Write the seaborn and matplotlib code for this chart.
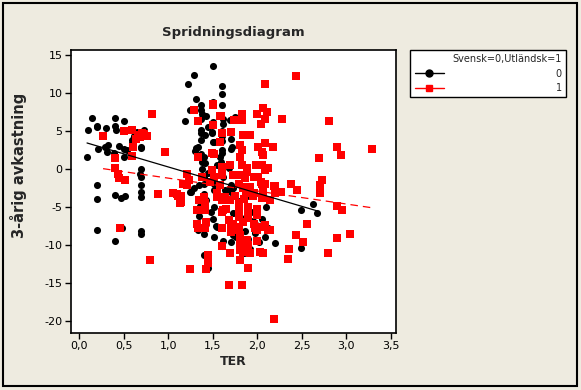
#!/usr/bin/env python3
import numpy as np
import pandas as pd
import seaborn as sns
import matplotlib.pyplot as plt
from matplotlib.lines import Line2D
from matplotlib.patches import Rectangle
from matplotlib.ticker import FuncFormatter

# Grupp 0 = Svensk (svarta cirklar)
svensk_ter = [
    0.10, 0.15, 0.20, 0.20, 0.30, 0.40, 0.40, 0.41, 0.51, 0.50, 0.59, 0.65, 0.73, 0.70,
    0.09, 0.21, 0.29, 0.33, 0.31, 0.39, 0.50, 0.50, 0.54, 0.59, 0.70, 0.62, 0.68, 0.45,
    0.70, 0.68, 0.70, 0.70, 0.70, 0.70, 0.20, 0.20, 0.40, 0.47, 0.52, 0.20, 0.40, 0.48,
    0.70, 0.70,
    1.50, 1.29, 1.22, 1.60, 1.60, 1.60, 1.31, 1.50, 1.37, 1.37, 1.38, 1.37, 1.25, 1.19,
    1.37, 1.37, 1.37, 1.50, 1.49, 1.31, 1.30, 1.37, 1.38, 1.38, 1.62, 1.62, 1.61, 1.61,
    1.61, 1.59, 1.59, 1.71, 1.71, 1.75, 1.69, 1.50, 1.45, 1.42, 1.41, 1.49, 1.60, 1.51,
    1.72, 1.34, 1.40, 1.41, 1.40, 1.40, 1.25, 1.29, 1.69, 1.70, 1.64, 1.51, 1.60, 1.58,
    1.50, 1.55, 1.45, 1.62, 1.68, 1.52,
    1.51, 1.60, 1.50, 1.55, 1.40, 1.52, 1.73, 1.73, 1.71, 1.40, 1.43, 1.40, 1.26, 1.35,
    1.62, 1.60, 1.54, 1.76, 1.70, 1.73,
    2.00, 2.09, 2.49, 2.49, 2.63, 2.67,
    # delvis dolda under röda kvadrater
    1.78, 1.82, 1.86, 1.90, 1.95, 1.88, 1.80, 1.93, 1.98, 2.05, 2.12, 2.20,
    1.76, 1.85, 1.97, 2.02, 1.92, 2.10,
    1.32, 1.35, 1.42, 1.45, 1.33, 1.48, 1.45, 1.40, 1.60, 1.32, 1.45, 1.36,
]
svensk_avk = [
    5.1, 6.8, 5.7, 5.5, 5.4, 6.8, 5.7, 5.2, 6.3, 5.2, 3.9, 4.9, 5.2, 2.8,
    1.6, 2.6, 2.9, 3.2, 2.3, 2.1, 2.7, 1.6, 2.5, 3.4, 2.9, 4.4, 4.6, 3.0,
    0.0, -0.7, -1.0, -2.1, -3.0, -3.7, -2.1, -3.9, -3.4, -3.8, -3.5, -8.0, -9.5, -7.8,
    -8.5, -8.2,
    13.6, 12.4, 11.2, 10.9, 9.9, 8.5, 9.3, 8.9, 8.4, 7.8, 7.2, 6.6, 7.8, 6.3,
    5.2, 4.7, 3.8, 3.6, 4.9, 2.8, 2.4, 2.0, 1.0, 0.0, 6.6, 5.9, 5.0, 3.7,
    2.5, 3.8, 1.0, 2.7, 4.0, 6.9, 6.5, 6.2, 5.5, 7.0, 4.5, 4.7, 4.4, 3.6,
    2.9, 2.9, 1.6, 0.8, -1.0, -1.9, -3.0, -2.5, -2.5, -3.0, -2.8, -2.8, 2.1, 1.6,
    -1.5, 0.5, -0.5, -1.0, 0.2, -2.0,
    -5.0, -5.4, -6.6, -7.6, -8.5, -8.9, -5.8, -8.7, -9.6, -11.3, -4.1, -3.3, -3.0, -2.1,
    -9.5, -4.0, -7.5, -5.8, -2.1, -2.5,
    -5.2, -8.9, -10.4, -5.4, -4.6, -5.8,
    -4.2, -6.4, -8.1, -9.2, -6.9, -3.6, -10.1, -5.6, -8.4, -6.6, -7.7, -9.8,
    -9.0, -11.0, -7.2, -9.6, -10.5, -5.0,
    -5.3, -6.2, -7.2, -11.3, -8.0, -5.6, -12.4, -3.7, -10.2, -7.5, -13.0, -4.8,
]

# Grupp 1 = Utländsk (röda kvadrater)
utl_ter = [
    0.27, 0.50, 0.60, 0.64, 0.66, 0.68, 0.71, 0.73, 0.76, 0.82, 0.61, 0.60, 0.40, 0.97,
    0.40, 0.44, 0.45, 0.52, 0.46, 0.80, 0.89, 1.05, 1.10, 1.11, 1.13,
    1.29, 1.33, 1.50, 1.58, 1.61, 1.58, 1.33, 1.49, 1.51, 1.50, 1.59, 1.50,
    1.60, 1.60, 1.69, 1.73, 1.83, 1.88, 1.88, 1.99, 2.05, 2.09, 2.12, 1.21, 1.23, 1.17,
    1.49, 1.51, 1.38, 1.47, 1.58, 1.55, 1.79, 1.84, 1.88, 1.96, 2.05, 1.86, 1.79, 1.96,
    2.01, 2.04, 2.09, 2.19, 2.38, 2.45, 2.70, 2.73, 2.70, 1.86, 1.87, 1.92, 1.92, 2.07,
    2.07, 2.14, 2.20, 2.20, 2.27, 1.06, 1.15, 1.21, 1.14, 1.35,
    1.32, 1.41, 1.41, 1.40, 1.32, 1.34, 1.41, 1.55, 1.60, 1.64, 1.69, 1.62, 1.60, 1.75,
    1.85, 1.95, 2.05, 1.68, 1.73, 1.79, 1.84, 1.90, 1.96, 1.98, 2.03, 2.09, 1.65, 1.60,
    1.80, 1.80, 1.80, 1.90, 1.90, 2.00, 2.00, 2.12, 2.07, 1.43, 1.70, 1.70,
    1.75, 1.81, 1.81, 1.81, 1.86, 1.90, 1.92, 1.81, 1.84, 1.60, 1.69, 2.03, 2.07, 2.00,
    1.88, 1.45, 1.45, 1.24, 1.43, 1.90, 1.68, 1.83, 2.19, 2.36, 2.34, 2.43, 2.51, 2.56,
    2.79, 2.90, 3.04, 2.89, 2.95, 2.14, 2.00,
    2.44, 2.09, 2.07, 2.11, 2.00, 2.09, 2.04, 2.28, 2.80, 1.83, 1.83, 1.74, 1.71, 1.84,
    1.92, 2.09, 2.18, 2.01, 2.05, 2.07, 1.81, 1.83, 1.81, 2.90, 2.94, 2.69, 3.29, 1.29,
    1.34,
]
utl_avk = [
    4.3, 5.0, 5.2, 4.0, 4.5, 4.2, 4.8, 4.6, 4.3, 7.3, 2.9, 1.7, 1.4, 2.2,
    0.2, -0.6, -1.2, -1.5, -7.8, -12.0, -3.3, -3.2, -3.3, -3.6, -4.5,
    7.8, 6.4, 8.6, 7.0, 4.8, 3.6, 1.6, 2.1, 2.0, 5.8, 7.0, 8.5,
    0.3, -0.8, 0.5, -0.8, 0.5, 0.1, -0.4, 0.5, 0.5, -0.1, 0.1, -0.6, -1.5, -1.9,
    -0.1, -1.0, -1.0, -1.7, -2.1, -3.2, -1.9, -2.5, -3.2, -3.2, -1.9, -1.2, -0.8, -1.0,
    -1.0, -1.7, -1.9, -2.2, -1.9, -2.7, -2.1, -1.5, -3.2, -2.3, -2.9, -2.3, -3.0, -2.3,
    -3.4, -4.1, -3.2, -2.2, -3.0, -3.2, -3.6, -2.1, -4.4, -4.1,
    -5.4, -5.4, -4.5, -3.7, -7.2, -7.8, -7.8, -3.7, -4.1, -3.7, -4.1, -5.4, -5.6, -3.6,
    -3.9, -3.5, -3.8, -6.7, -7.2, -7.6, -7.0, -6.5, -7.2, -7.8, -7.6, -7.4, -5.2, -7.8,
    -4.5, -5.4, -6.3, -5.6, -5.0, -6.0, -5.2, -8.0, -7.6, -7.0, -7.6, -8.3,
    -8.0, -8.7, -9.6, -10.7, -9.6, -10.0, -11.1, -12.0, -10.9, -10.2, -11.1, -10.9, -11.0, -9.5,
    -9.3, -11.3, -12.4, -13.2, -13.2, -13.1, -15.3, -15.3, -19.7, -10.5, -11.9, -8.7, -9.6, -7.3,
    -11.0, -9.1, -8.6, -4.9, -5.4, -8.0, -8.0,
    12.3, 11.2, 8.0, 7.5, 7.3, 6.6, 5.9, 6.6, 6.3, 7.3, 6.5, 6.5, 4.9, 4.5,
    4.5, 3.5, 2.9, 2.9, 2.3, 1.8, 3.2, 2.5, 1.6, 2.9, 1.9, 1.5, 2.7, 7.8,
    6.4,
]

x_ticks = [0.0, 0.5, 1.0, 1.5, 2.0, 2.5, 3.0, 3.5]
y_ticks = [-20, -15, -10, -5, 0, 5, 10, 15]


def main():
    df0 = pd.DataFrame({"TER": svensk_ter, "avk": svensk_avk})
    df1 = pd.DataFrame({"TER": utl_ter, "avk": utl_avk})

    sns.set_theme(style="white")
    plt.rcParams["font.family"] = ["DejaVu Sans"]

    bg = "#EEEBE0"
    fig = plt.figure(figsize=(5.81, 3.90), dpi=100, facecolor=bg)
    ax = fig.add_axes([0.1217, 0.1462, 0.5599, 0.7256])
    ax.set_facecolor("white")

    # Svarta först, röda ritas ovanpå (som i Minitab)
    sns.regplot(data=df0, x="TER", y="avk", ax=ax, ci=None, truncate=True,
                marker="o", color="black",
                scatter_kws={"s": 26, "linewidths": 0, "alpha": 1, "zorder": 2},
                line_kws={"lw": 0.9, "zorder": 5})
    sns.regplot(data=df1, x="TER", y="avk", ax=ax, ci=None, truncate=True,
                marker="s", color="#FF0000",
                scatter_kws={"s": 30, "linewidths": 0, "alpha": 1, "zorder": 3},
                line_kws={"lw": 0.9, "ls": (0, (6, 4)), "zorder": 4})

    ax.set_xlim(-0.093, 3.557)
    ax.set_ylim(-21.6, 15.7)
    ax.set_xticks(x_ticks)
    ax.set_yticks(y_ticks)
    ax.xaxis.set_major_formatter(FuncFormatter(lambda v, p: f"{v:.1f}".replace(".", ",")))
    ax.yaxis.set_major_formatter(FuncFormatter(lambda v, p: f"{int(v)}"))
    ax.tick_params(axis="both", direction="out", length=4, width=1, colors="black",
                   labelsize=8, bottom=True, left=True, top=False, right=False, pad=2)

    for sp in ax.spines.values():
        sp.set_visible(True)
        sp.set_color("black")
        sp.set_linewidth(1.2)

    ax.set_xlabel("TER", fontsize=9, fontweight="bold", labelpad=3)
    ax.set_ylabel("3-årig avkastning", fontsize=10.5, fontweight="bold")
    ax.yaxis.set_label_coords(-0.134, 0.594)
    ax.set_title("Spridningsdiagram", fontsize=9.5, fontweight="bold", pad=10)

    handles = [
        Line2D([], [], color="black", marker="o", markersize=5, lw=1),
        Line2D([], [], color="#FF0000", marker="s", markersize=5, lw=1),
    ]
    leg = fig.legend(handles, ["0", "1"], title="Svensk=0,Utländsk=1",
                     loc="upper left", bbox_to_anchor=(0.706, 0.872),
                     fontsize=7, title_fontsize=7, frameon=True, fancybox=False,
                     edgecolor="black", facecolor="white", framealpha=1,
                     handlelength=3.0, handletextpad=11.5, borderpad=0.45,
                     borderaxespad=0, labelspacing=0.45, alignment="right")
    leg.get_frame().set_linewidth(1)

    # Svart ram runt hela figuren
    fig.patches.append(Rectangle((3 / 581, 4 / 390), 574 / 581, 383 / 390,
                                 transform=fig.transFigure, fill=False,
                                 edgecolor="black", linewidth=1.5))

    fig.savefig("out.png", dpi=100, facecolor=bg)


if __name__ == "__main__":
    main()
